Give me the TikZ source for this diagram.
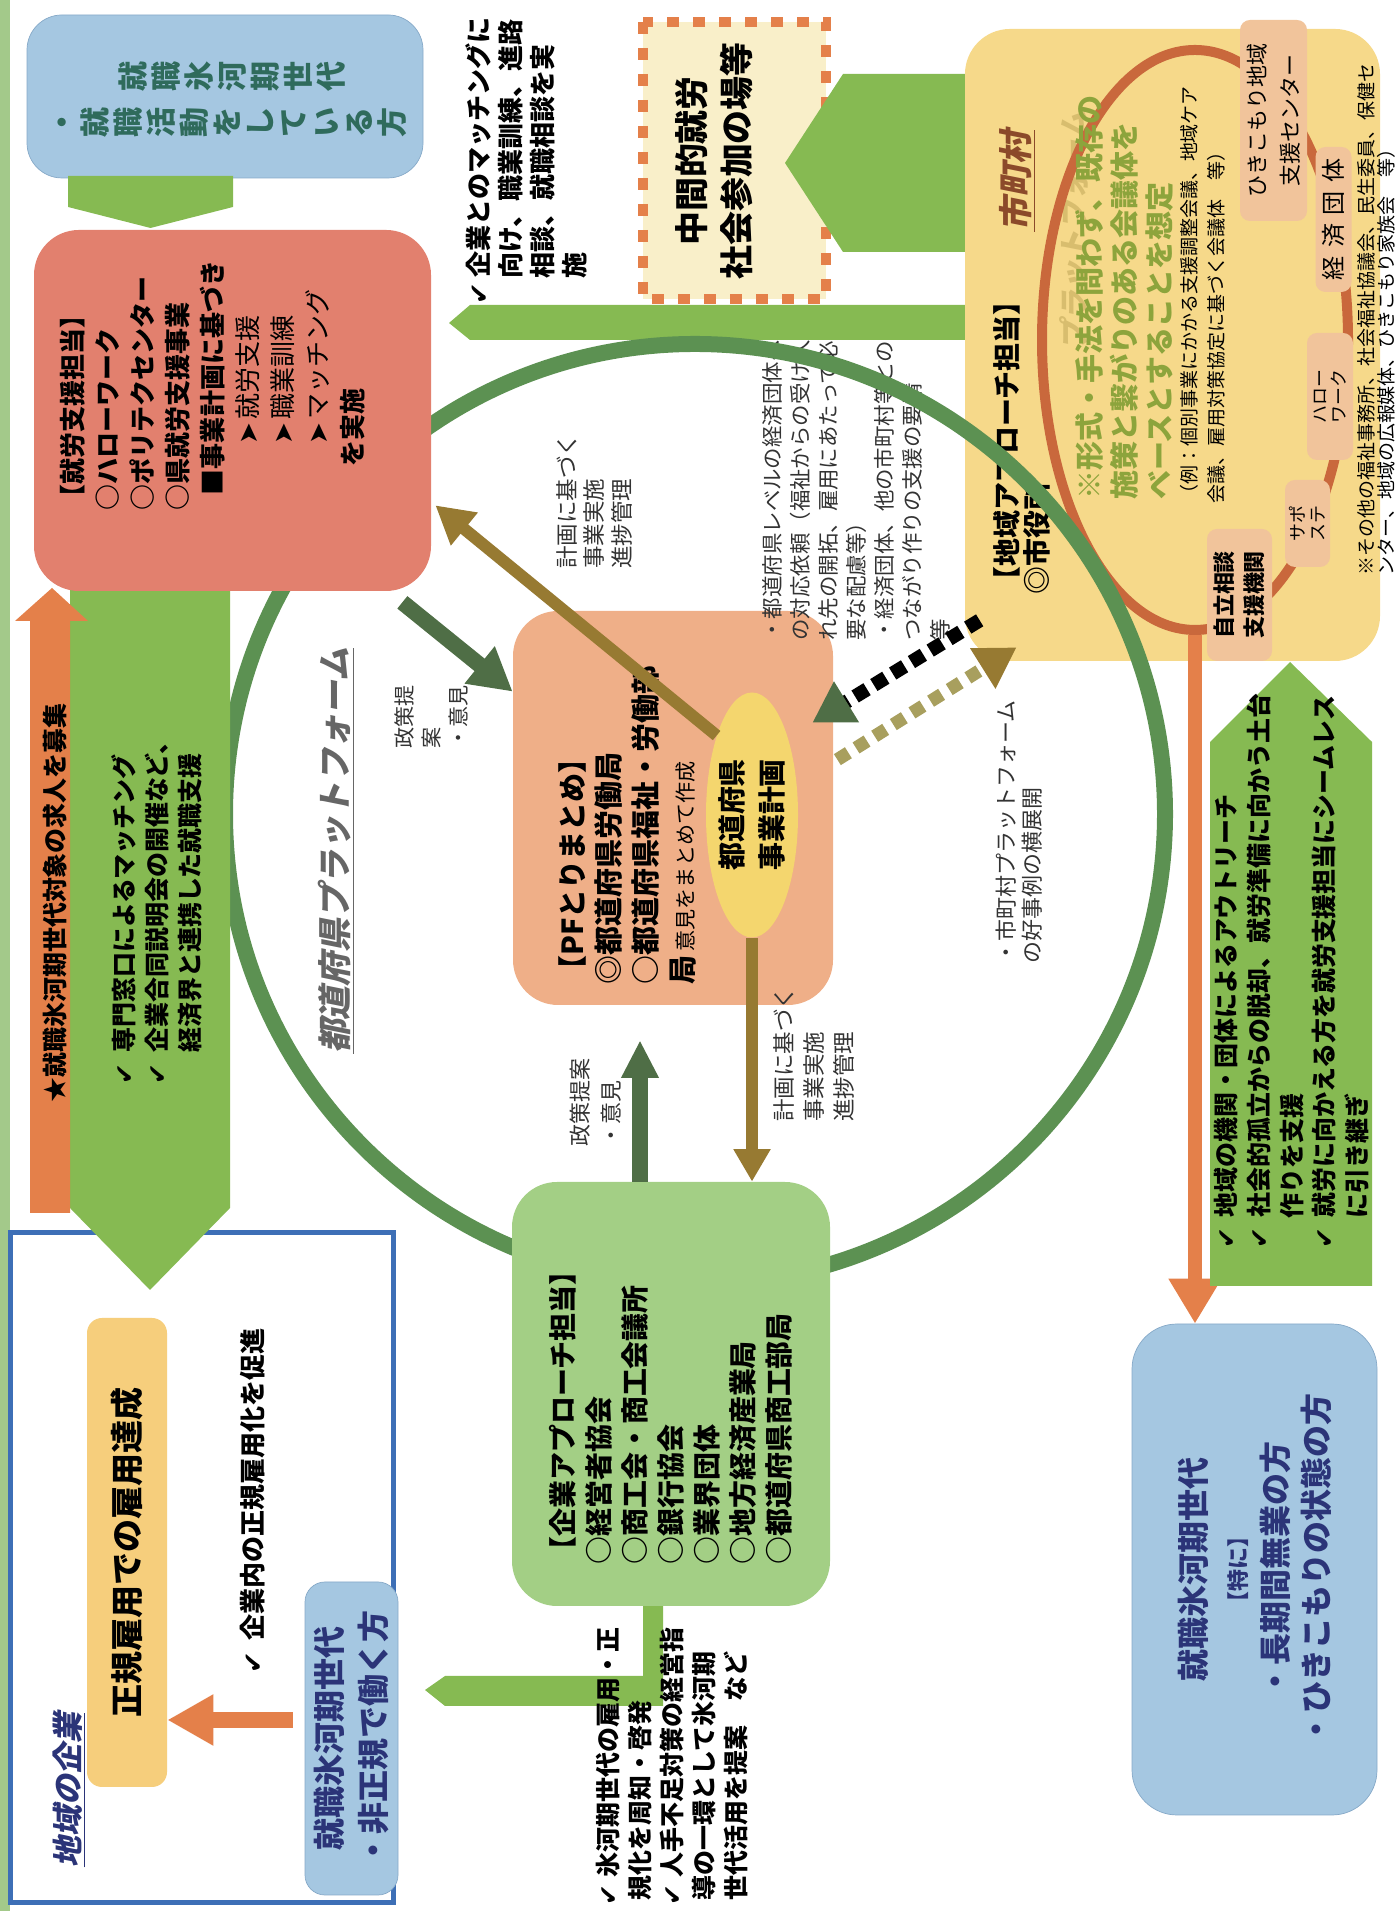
\documentclass[tikz,border=0pt]{standalone}
\usepackage{fontspec}
\setmainfont{Noto Sans CJK JP}
\newfontfamily\checkfont{DejaVu Sans}
\newfontfamily\slantfont{Noto Sans CJK JP}[FakeSlant=0.2]
\usetikzlibrary{arrows.meta,calc,shapes.geometric}
\newcommand\setfs[2]{\fontsize{#1pt}{#2pt}\selectfont}
\newcommand\tick{{\checkfont ✔}}
\definecolor{stripgreen}{HTML}{A3C98A}
\definecolor{leafgreen}{HTML}{86BA52}
\definecolor{ringgreen}{HTML}{5C9152}
\definecolor{darkleaf}{HTML}{4F6E46}
\definecolor{olivebrown}{HTML}{977A32}
\definecolor{salmon}{HTML}{E2806E}
\definecolor{peach}{HTML}{EFAF88}
\definecolor{mint}{HTML}{A3CF85}
\definecolor{skyblue}{HTML}{A5C7E1}
\definecolor{skyedge}{HTML}{86A9C8}
\definecolor{navy}{HTML}{2B3478}
\definecolor{teal}{HTML}{2F6B5C}
\definecolor{amber}{HTML}{F6D98A}
\definecolor{cream}{HTML}{F9EFC9}
\definecolor{tangerine}{HTML}{E4804A}
\definecolor{rust}{HTML}{C9683C}
\definecolor{lemon}{HTML}{F4D66E}
\definecolor{goldbox}{HTML}{F6CE7C}
\definecolor{frameblue}{HTML}{3D6FB6}
\definecolor{khaki}{HTML}{A89F5E}
\definecolor{sage}{HTML}{8DA43C}
\definecolor{tagpeach}{HTML}{F1C49B}
\definecolor{brickred}{HTML}{8B4A2A}
\definecolor{olivetitle}{HTML}{B49C4E}
\begin{document}
\begin{tikzpicture}[x=0.2mm,y=0.2mm]
\tikzset{panel/.style = {rounded corners=8mm,inner sep=0pt}}
\tikzset{boxsize/.style 2 args = {minimum width=#1*0.2mm,minimum height=#2*0.2mm}}
\tikzset{memo/.style = {anchor=north west,align=left,inner sep=0pt}}
\tikzset{subbox/.style = {fill=tagpeach,rounded corners=2mm,inner sep=0pt,align=center}}
\tikzset{planarrow/.style = {olivebrown,line width=2.4mm,-{Triangle[length=7.5mm,width=8mm]}}}
\tikzset{opinion/.style = {darkleaf,line width=3.2mm,-{Triangle[length=8.5mm,width=9mm]}}}
\tikzset{linkdash/.style = {black,line width=2.8mm,dash pattern=on 2.8mm off 1.6mm,-{Triangle[length=8mm,width=9mm,color=darkleaf]}}}
\tikzset{sharedash/.style = {khaki,line width=2.6mm,dash pattern=on 2.6mm off 1.8mm,-{Triangle[length=8mm,width=9mm,color=olivebrown]}}}
\useasboundingbox (0,0) rectangle (1397,1921);
\begin{scope}[rotate=90,transform shape]
% page strip
\fill[stripgreen] (10,0) rectangle (1921,-10);
% target group at the end
\node[panel,rounded corners=9mm,fill=skyblue,draw=skyedge,boxsize={491}{245}] (hiki) at (351.5,-1254.5) {};
\node[font={\bfseries\setfs{18.2}{23.3}},text=navy,align=center] (hikitext) at (351.5,-1255) {就職氷河期世代\\{\setfs{12.5}{23.3}【特に】}\\・長期間無業の方\\・ひきこもりの状態の方};
% intermediate place
\node[draw=tangerine,line width=2mm,dash pattern=on 2.4mm off 2.8mm,fill=cream,inner sep=0pt,boxsize={277}{183}] (midwork) at (1760.5,-734.5) {};
\node[font={\bfseries\setfs{19.3}{25.6}},align=center] (midworktext) at (1760,-714) {中間的就労\\社会参加の場等};
\fill[leafgreen] (1847,-990) -- (1847,-843) -- (1758,-785) -- (1669,-843) -- (1669,-990) -- cycle;
\fill[leafgreen] (1616,-990) -- (1616,-470) -- (1598,-449) -- (1581,-470) -- (1581,-990) -- cycle;
% municipal platform
\node[panel,rounded corners=9mm,fill=amber,boxsize={632}{415}] (muni) at (1576,-1172.5) {};
\node[font={\slantfont\bfseries\setfs{17.1}{20}},text=olivetitle,opacity=.45] (munipf) at (1690,-1074) {プラットフォーム};
\node[ellipse,draw=rust,line width=2mm,inner sep=0pt,boxsize={580}{306}] (munring) at (1581,-1195) {};
\node[memo,font={\bfseries\setfs{15.9}{17.1}}] (munilead) at (1326,-993) {【地域アプローチ担当】\\◎市役所};
\node[font={\slantfont\bfseries\setfs{19.3}{22}},text=brickred] (munititle) at (1740,-1017) {\underline{市町村}};
\node[memo,font={\bfseries\setfs{16.5}{19.9}},text=sage] (munirule) at (1421,-1075) {※形式・手法を問わず、既存の\\施策と繋がりのある会議体を\\ベースとすることを想定};
\node[memo,font={\setfs{10.8}{15.4}}] (muniexample) at (1417,-1180) {（例：個別事業にかかる支援調整会議、地域ケア\\会議、雇用対策協定に基づく会議体　等）};
\draw[tangerine,line width=2.8mm,-{Triangle[length=9mm,width=10mm]}] (munring.west) -- (munring.west -| hiki.east);
\node[subbox,boxsize={201}{67},font={\setfs{12.5}{18.8}}] (hikicenter) at (1800.5,-1273.5) {ひきこもり地域\\支援センター};
\node[subbox,boxsize={145}{36},font={\setfs{13.7}{15}}] (econgroup) at (1701.5,-1333.5) {経\hspace{.35em}済\hspace{.35em}団\hspace{.35em}体};
\node[subbox,boxsize={127}{46},font={\setfs{10.2}{10.6}}] (hellowork) at (1524.5,-1330) {ハロー\\ワーク};
\node[subbox,boxsize={87}{45},font={\setfs{10.2}{11.4}}] (saposute) at (1397.5,-1307.5) {サポ\\ステ};
\node[subbox,boxsize={132}{65},font={\bfseries\setfs{12.5}{17.1}}] (jiritsu) at (1326,-1239.5) {自立相談\\支援機関};
\node[memo,font={\setfs{10.8}{11.4}}] (muniothers) at (1345,-1357) {※その他の福祉事務所、社会福祉協議会、民生委員、保健セ\\ンター、地域の広報媒体、ひきこもり家族会　等）};
% PF coordination
\node[panel,rounded corners=9mm,fill=peach,boxsize={394}{320}] (pf) at (1113,-673) {};
\node[memo,font={\bfseries\setfs{16.5}{20.9}}] (pftext) at (936,-558) {【PFとりまとめ】\\◎都道府県労働局\\○都道府県福祉・労働部\\局\hspace{0.15em}{\mdseries\setfs{12}{20.9}意見をまとめて作成}};
\node[ellipse,fill=lemon,inner sep=0pt,boxsize={245}{92}] (plan) at (1106,-752) {};
\node[font={\bfseries\setfs{15.9}{22.8}},align=center] (plantext) at (1106,-752) {都道府県\\事業計画};
% notes inside the ring
\node[memo,font={\setfs{12.2}{15.9}},text=black!80] (requestnote) at (1280,-762) {・都道府県レベルの経済団体へ\\の対応依頼（福祉からの受け入\\れ先の開拓、雇用にあたって必\\要な配慮等）\\・経済団体、他の市町村等との\\つながり作りの支援の要請\\等};
\node[memo,font={\setfs{12.5}{14.8}},text=black!80] (sharenote) at (957,-996) {・市町村プラットフォーム\\の好事例の横展開};
% prefectural platform ring
\node[circle,draw=ringgreen,line width=3.2mm,inner sep=0pt,minimum size=940*0.2mm] (pfring) at (1107,-695) {};
% local firms
\node[draw=frameblue,line width=1mm,fill=white,inner sep=0pt,boxsize={670}{383}] (localfirms) at (353,-201.5) {};
\node[font={\slantfont\bfseries\setfs{17.6}{20}},text=navy] (firmtitle) at (131,-69) {\underline{地域の企業}};
\node[panel,rounded corners=3mm,fill=goldbox,boxsize={469}{80},font={\bfseries\setfs{18.8}{20}}] (fulltime) at (368.5,-127) {正規雇用での雇用達成};
\node[anchor=west,inner sep=0pt,font={\bfseries\setfs{14.8}{16}}] (promote) at (247,-253) {\tick\hspace{0.45em}企業内の正規雇用化を促進};
\node[panel,rounded corners=4mm,fill=skyblue,draw=skyedge,boxsize={313}{93},font={\bfseries\setfs{18.2}{25}},text=navy,align=center] (nonreg) at (182.5,-351.5) {就職氷河期世代\\・非正規で働く方};
\draw[tangerine,line width=3.2mm,shorten <=2.4mm,-{Triangle[length=9.2mm,width=9.6mm]}] (nonreg.north -| 201,0) -- (fulltime.south -| 201,0);
% support side arrows
\fill[leafgreen] (1347,-70) -- (713,-70) -- (631,-150) -- (713,-230) -- (1347,-230) -- cycle;
\node[memo,font={\bfseries\setfs{14.2}{18.8}}] (matchnote) at (836,-111) {\tick\hspace{0.45em}専門窓口によるマッチング\\\tick\hspace{0.45em}企業合同説明会の開催など、\\\hspace*{1.28em}経済界と連携した就職支援};
\fill[tangerine] (708,-30) -- (1300,-30) -- (1300,-15) -- (1333,-52) -- (1300,-88) -- (1300,-70) -- (708,-70) -- cycle;
\node[font={\bfseries\setfs{14.2}{16}}] (jobsnote) at (1018,-55) {★就職氷河期世代対象の求人を募集};
% job seekers
\node[panel,rounded corners=7mm,fill=skyblue,draw=skyedge,boxsize={163}{396}] (seekers) at (1824.5,-225) {};
\node[font={\bfseries\setfs{17.1}{18.8}},text=teal] (seekerstext) at (1821.5,-232) {\parbox[c]{1em}{\centering ・\\就\\職\\活\\動\\を\\し\\て\\い\\る\\方}\hspace{0.5em}\parbox[c]{1em}{\centering 就\\職\\氷\\河\\期\\世\\代}};
\fill[leafgreen] (1745,-68) -- (1714,-68) -- (1693,-150.5) -- (1714,-233) -- (1745,-233) -- cycle;
% employment support
\node[panel,rounded corners=9mm,fill=salmon,boxsize={361}{397}] (support) at (1510.5,-232.5) {};
\node[memo,font={\setfs{14.8}{19.9}}] (supporttext) at (1410,-60) {{\bfseries 【就労支援担当】}\\{\bfseries ○ハローワーク}\\{\bfseries ○ポリテクセンター}\\{\bfseries ○県就労支援事業}\\\hspace*{0.6em}{\bfseries ■事業計画に基づき}\\\hspace*{2.55em}{\checkfont ➤}\hspace{0.1em}就労支援\\\hspace*{2.55em}{\checkfont ➤}\hspace{0.1em}職業訓練\\\hspace*{2.55em}{\checkfont ➤}\hspace{0.1em}マッチング\\\hspace*{1.7em}{\bfseries を実施}};
% enterprise approach
\fill[leafgreen] (320,-643) -- (320,-663) -- (215,-663) -- (215,-445) -- (231,-425) -- (245,-445) -- (245,-643) -- cycle;
\node[memo,font={\bfseries\setfs{14.2}{18.2}}] (campaign) at (15,-596) {\tick\hspace{0.3em}氷河期世代の雇用・正\\\hspace*{0.2em}規化を周知・啓発\\\tick\hspace{0.3em}人手不足対策の経営指\\\hspace*{0.2em}導の一環として氷河期\\\hspace*{0.2em}世代活用を提案　など};
\node[panel,rounded corners=9mm,fill=mint,boxsize={424}{318}] (ent) at (527,-671) {};
\node[memo,font={\bfseries\setfs{15.9}{20.5}}] (enttext) at (356,-549) {【企業アプローチ担当】\\○経営者協会\\○商工会・商工会議所\\○銀行協会\\○業界団体\\○地方経済産業局\\○都道府県商工部局};
% connectors
\draw[planarrow] (plan.24) -- ($(support.south west)+(86,-4)$);
\draw[opinion] ($(support.south west)+(-11,29)$) -- ($(pf.north east)+(-81,0)$);
\draw[opinion,-{Triangle[length=7.5mm,width=7mm]}] ($(ent.east)+(0,31)$) -- ($(pf.west)+(-35,33)$);
\draw[planarrow,-{Triangle[length=6.5mm,width=7mm]}] (plan.west) -- (plan.west -| ent.east);
\draw[linkdash] ($(muni.north west)+(41,-15)$) -- ($(pf.south east)+(-112,21)$);
\draw[sharedash] ($(pf.south east)+(-149,-4)$) -- ($(muni.north west)+(14,-52)$);
\node[memo,font={\setfs{12}{15.4}},text=black!80] (opinionlabel) at (1172,-394) {政策提\\案\\・意見};
\node[memo,font={\setfs{12.5}{17.6}},text=black!80] (entopinion) at (774,-570) {政策提案\\・意見};
\node[memo,font={\setfs{12.8}{15.6}},text=black!80] (planlabelup) at (1352,-556) {計画に基づく\\事業実施\\進捗管理};
\node[memo,font={\setfs{12.8}{17.1}},text=black!80] (planlabeldown) at (799,-773) {計画に基づく\\事業実施\\進捗管理};
\node[font={\slantfont\bfseries\setfs{19.3}{22}},text=black!60] (pftitle) at (1070,-336) {\underline{都道府県プラットフォーム}};
% outreach arrow
\fill[leafgreen] (635,-1210) -- (1179,-1210) -- (1259,-1290) -- (1179,-1372) -- (635,-1372) -- cycle;
\node[memo,font={\bfseries\setfs{14.2}{18.6}}] (outreach) at (672,-1214) {\tick\hspace{0.4em}地域の機関・団体によるアウトリーチ\\\tick\hspace{0.4em}社会的孤立からの脱却、就労準備に向かう土台\\\hspace*{1.2em}作りを支援\\\tick\hspace{0.4em}就労に向かえる方を就労支援担当にシームレス\\\hspace*{1.2em}に引き継ぎ};
\node[memo,font={\bfseries\setfs{14.8}{18.2}}] (trainnote) at (1616,-465) {\tick\hspace{0.2em}企業とのマッチングに\\\hspace*{1.0em}向け、職業訓練、進路\\\hspace*{1.0em}相談、就職相談を実\\\hspace*{1.0em}施};
\end{scope}
\end{tikzpicture}
\end{document}
